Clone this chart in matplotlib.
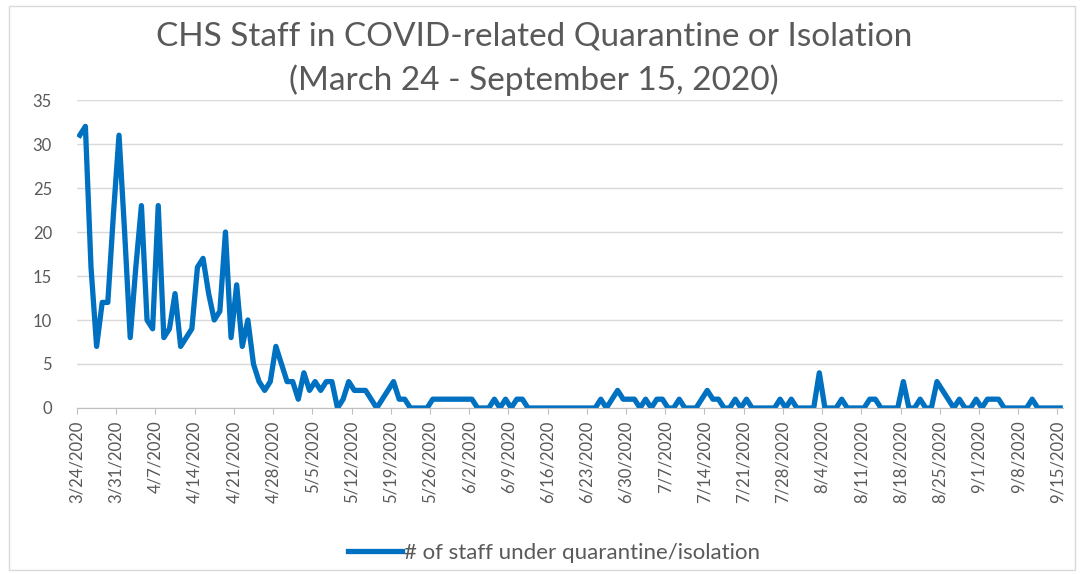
import matplotlib
matplotlib.use('Agg')
import matplotlib.pyplot as plt
import matplotlib.patches as patches
import numpy as np
import pandas as pd

plt.rcParams['font.family'] = ['Lato', 'DejaVu Sans']

# daily counts, one list per month (3/24/2020 - 9/15/2020)
mar = [31, 32, 16, 7, 12, 12, 22, 31]
apr = [20, 8, 16, 23, 10, 9, 23, 8, 9, 13, 7, 8, 9, 16, 17,
       13, 10, 11, 20, 8, 14, 7, 10, 5, 3, 2, 3, 7, 5, 3]
may = [3, 1, 4, 2, 3, 2, 3, 3, 0, 1, 3, 2, 2, 2, 1, 0,
       1, 2, 3, 1, 1, 0, 0, 0, 0, 1, 1, 1, 1, 1, 1]
jun = [1, 1, 0, 0, 0, 1, 0, 1, 0, 1, 1, 0, 0, 0, 0,
       0, 0, 0, 0, 0, 0, 0, 0, 0, 1, 0, 1, 2, 1, 1]
jul = [1, 0, 1, 0, 1, 1, 0, 0, 1, 0, 0, 0, 1, 2, 1, 1,
       0, 0, 1, 0, 1, 0, 0, 0, 0, 0, 1, 0, 1, 0, 0]
aug = [0, 0, 4, 0, 0, 0, 1, 0, 0, 0, 0, 1, 1, 0, 0, 0,
       0, 3, 0, 0, 1, 0, 0, 3, 2, 1, 0, 1, 0, 0, 1]
sep = [0, 1, 1, 1, 0, 0, 0, 0, 0, 1, 0, 0, 0, 0, 0]

staff = mar + apr + may + jun + jul + aug + sep
dates = pd.date_range('2020-03-24', '2020-09-15', freq='D')
series_label = '# of staff under quarantine/isolation'
title_lines = ['CHS Staff in COVID-related Quarantine or Isolation',
               '(March 24 - September 15, 2020)']
yticks = [0, 5, 10, 15, 20, 25, 30, 35]

W, H = 1081, 574
fig = plt.figure(figsize=(W / 100, H / 100), dpi=100)
fig.patch.set_facecolor('white')

# chart border
fig.patches.append(patches.Rectangle((9 / W, 4 / H), 1066 / W, 564 / H,
                                     transform=fig.transFigure, fill=False,
                                     edgecolor='#d9d9d9', linewidth=1))

ax = fig.add_axes([77 / W, 1 - 408 / H, 986 / W, 308 / H])

x = np.arange(len(staff)) + 0.5   # points sit between tick marks
ax.plot(x, staff, color='#0070c0', linewidth=3.8, solid_joinstyle='round',
        label=series_label)

ax.set_xlim(0, len(staff))
ax.set_ylim(0, 35)
ticks = np.arange(0, len(staff), 7)
ax.set_xticks(ticks)
ax.set_xticklabels([f'{dates[i].month}/{dates[i].day}/{dates[i].year}' for i in ticks],
                   rotation=90, fontsize=12, color='#595959')
ax.set_yticks(yticks)
ax.set_yticklabels([str(v) for v in yticks], fontsize=12, color='#595959')

ax.grid(axis='y', color='#d9d9d9', linewidth=1)
ax.set_axisbelow(True)
for s in ['top', 'right', 'left']:
    ax.spines[s].set_visible(False)
ax.spines['bottom'].set_color('#bfbfbf')
ax.tick_params(axis='x', length=4, color='#bfbfbf', pad=5)
ax.tick_params(axis='y', length=0, pad=18)

fig.text(534 / W, 1 - 37 / H, title_lines[0], ha='center', va='center',
         fontsize=24, color='#595959')
fig.text(534 / W, 1 - 80 / H, title_lines[1], ha='center', va='center',
         fontsize=24, color='#595959')

fig.legend(loc='center', bbox_to_anchor=(554 / W, 1 - 553 / H), frameon=False,
           fontsize=16, handlelength=2.4, handletextpad=0.1,
           labelcolor='#595959')

fig.savefig('out.png', dpi=100)
